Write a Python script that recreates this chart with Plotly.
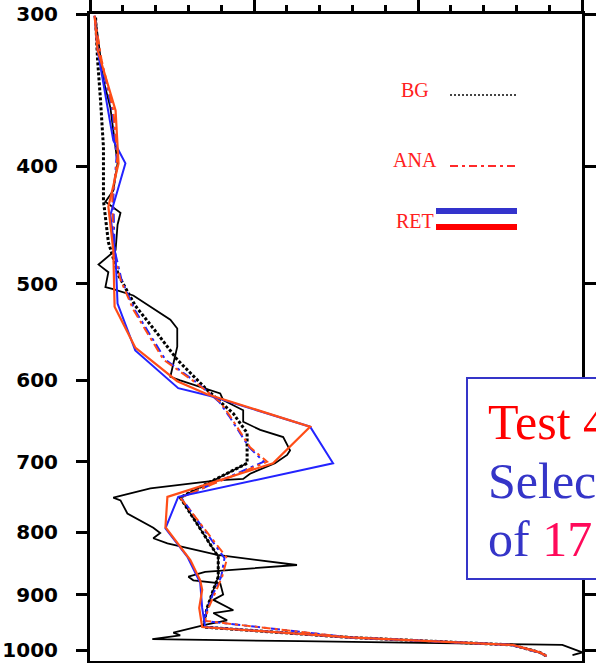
import math
import plotly.graph_objects as go

# ---- profiles: pressure (hPa) and mixing ratio (g/kg) ----
obs_p = [303, 340, 358, 386, 398, 419, 428, 437, 447, 469, 482, 489, 503, 505, 511, 535, 544, 563, 596, 600,
         613, 615, 623, 635, 649, 659, 668, 685, 691, 702, 716, 723, 725, 736, 749, 753, 772, 782, 793, 801,
         809, 817, 835, 851, 862, 870, 876, 881, 900, 909, 927, 932, 945, 952, 960, 967, 972, 979, 983, 990,
         1004, 1009]
obs_q = [0.17, 0.41, 0.62, 0.78, 0.84, 0.71, 0.47, 0.93, 0.84, 0.78, 0.26, 0.56, 0.47, 0.71, 1.32, 2.45, 2.66, 2.66, 2.45, 2.75,
         3.76, 3.97, 4.06, 4.67, 4.67, 5.19, 5.89, 6.10, 6.01, 5.64, 4.88, 4.67, 3.88, 1.84, 0.71, 0.93, 1.14, 1.54, 1.93, 2.14,
         1.93, 2.36, 3.88, 6.31, 3.51, 3.00, 3.15, 3.97, 4.06, 3.76, 4.37, 3.76, 4.18, 3.57, 3.06, 2.54, 2.75, 1.90, 6.40, 14.40,
         15.01, 14.71]

low_p = [702, 725, 749, 838, 870, 892, 923, 957, 976, 990, 1004, 1011]
low_q = [4.79, 3.76, 2.75, 3.91, 3.91, 3.76, 3.57, 3.45, 7.92, 12.88, 13.71, 13.92]

bg_p = [302, 327, 353, 386, 427, 462, 492, 521, 549, 577, 611, 639, 663, 702, 725, 749, 838, 870, 892, 923,
        957, 976, 990, 1004, 1011]
bg_q = [0.17, 0.23, 0.32, 0.41, 0.41, 0.56, 0.87, 1.38, 2.05, 2.66, 3.57, 4.37, 4.79, 4.79, 3.76, 2.75, 3.91, 3.91, 3.76, 3.57,
        3.45, 7.92, 12.88, 13.71, 13.92]

ana_p = [301, 327, 360, 393, 425, 469, 496, 525, 577, 604, 625, 642, 681, 700, 749, 840, 870, 903, 925, 946,
         976, 990, 1004, 1011]
ana_red_q = [0.14, 0.35, 0.71, 0.84, 0.68, 0.71, 0.93, 1.32, 2.24, 3.27, 3.97, 4.27, 4.88, 5.40, 2.75, 4.18, 4.03, 3.76, 3.60, 3.51,
             7.92, 12.88, 13.71, 13.92]
ana_blue_q = [0.14, 0.32, 0.68, 0.81, 0.71, 0.75, 0.96, 1.36, 2.30, 3.30, 3.94, 4.24, 4.85, 5.30, 2.78, 4.10, 4.00, 3.72, 3.57, 3.48,
              7.90, 12.85, 13.68, 13.95]

ret_red_p = [301, 321, 360, 398, 432, 469, 522, 564, 601, 616, 655, 702, 748, 792, 843, 876, 892, 923, 957, 976,
             990, 1004, 1011]
ret_red_q = [0.14, 0.23, 0.78, 0.87, 0.56, 0.71, 0.75, 1.38, 2.66, 3.57, 6.71, 5.58, 2.36, 2.30, 3.06, 3.36, 3.42, 3.33, 3.42, 7.92,
             12.88, 13.71, 13.92]

ret_blue_p = [301, 321, 381, 398, 419, 439, 474, 519, 567, 609, 618, 655, 702, 748, 794, 838, 880, 923, 957, 976,
              990, 1004, 1011]
ret_blue_q = [0.14, 0.23, 0.71, 1.08, 0.84, 0.62, 0.78, 0.84, 1.38, 2.69, 3.67, 6.71, 7.41, 2.69, 2.30, 2.97, 3.36, 3.42, 3.51, 7.92,
              12.88, 13.71, 13.92]

p_ticks = [300, 400, 500, 600, 700, 800, 900, 1000]
p_labels = ["300", "400", "500", "600", "700", "800", "900", "1000"]

W, H = 596, 663
ML, MR, MT, MB = 90, 14, 14, 2
PW, PH = W - ML - MR, H - MT - MB


def fx(px):
    return (px - ML) / PW


def fy(py):
    return 1 - (py - MT) / PH


RED = "#ff4d17"
BLUE = "#2323ff"
BOX_BLUE = "#3535c8"

fig = go.Figure()


def add(q, p, color, width, dash="solid"):
    fig.add_trace(go.Scatter(x=q, y=p, mode="lines", showlegend=False,
                             line=dict(color=color, width=width, dash=dash)))


add(obs_q, obs_p, "black", 1.8)
add(low_q, low_p, "black", 1.5)
add(bg_q, bg_p, "black", 3, "3px,2px")
add(ana_blue_q, ana_p, BLUE, 2, "9px,4px,3px,4px")
add(ana_red_q, ana_p, RED, 2, "9px,4px,3px,4px")
add(ret_blue_q, ret_blue_p, BLUE, 2)
add(ret_red_q, ret_red_p, RED, 2.2)

fig.update_xaxes(range=[0, 15], dtick=5, tick0=0, showticklabels=False, automargin=False,
                 ticks="outside", ticklen=14, tickwidth=2.5, tickcolor="black",
                 minor=dict(dtick=1, ticks="outside", ticklen=6, tickwidth=2.5, tickcolor="black"),
                 showline=True, linewidth=3, linecolor="black", mirror="ticks",
                 showgrid=False, zeroline=False)
fig.update_yaxes(type="log", range=[math.log10(1020.5), math.log10(300)], automargin=False,
                 tickvals=p_ticks, ticktext=p_labels,
                 ticks="outside", ticklen=11, tickwidth=2.5, tickcolor="black",
                 ticklabelstandoff=14,
                 tickfont=dict(family="DejaVu Sans", size=20, color="black", weight="bold"),
                 showline=True, linewidth=3, linecolor="black", mirror="ticks",
                 showgrid=False, zeroline=False)

shapes = []
# legend samples
shapes.append(dict(type="line", xref="paper", yref="paper", x0=fx(450), x1=fx(517), y0=fy(95), y1=fy(95),
                   line=dict(color="#444444", width=2, dash="2px,2px")))
shapes.append(dict(type="line", xref="paper", yref="paper", x0=fx(450), x1=fx(517), y0=fy(166), y1=fy(166),
                   line=dict(color="#ff2a2a", width=2, dash="8px,4px,3px,4px")))
shapes.append(dict(type="line", xref="paper", yref="paper", x0=fx(436), x1=fx(517), y0=fy(211), y1=fy(211),
                   line=dict(color="#3333cc", width=6)))
shapes.append(dict(type="line", xref="paper", yref="paper", x0=fx(436), x1=fx(517), y0=fy(227), y1=fy(227),
                   line=dict(color="#ff0000", width=6)))
# caption box
shapes.append(dict(type="rect", xref="paper", yref="paper", x0=fx(467), x1=fx(720), y0=fy(579), y1=fy(378),
                   line=dict(color=BOX_BLUE, width=2), fillcolor="white", layer="above"))

legend_font = dict(family="Liberation Serif", size=20, color="#ff2020")
annotations = [
    dict(text="BG", x=fx(415), y=fy(90), xref="paper", yref="paper", showarrow=False,
         xanchor="center", yanchor="middle", font=legend_font),
    dict(text="ANA", x=fx(415), y=fy(160), xref="paper", yref="paper", showarrow=False,
         xanchor="center", yanchor="middle", font=legend_font),
    dict(text="RET", x=fx(415), y=fy(221), xref="paper", yref="paper", showarrow=False,
         xanchor="center", yanchor="middle", font=legend_font),
]

box_font = dict(family="Liberation Serif", size=50)
annotations += [
    dict(text="<span style='color:#ff0000'>Test 4</span>", x=fx(486), y=fy(422), xref="paper", yref="paper",
         showarrow=False, xanchor="left", yanchor="middle", font=box_font),
    dict(text="<span style='color:#3535c8'>Selec</span>", x=fx(486), y=fy(481), xref="paper", yref="paper",
         showarrow=False, xanchor="left", yanchor="middle", font=box_font),
    dict(text="<span style='color:#3535c8'>of </span><span style='color:#ff0a5a'>17</span>",
         x=fx(486), y=fy(539), xref="paper", yref="paper",
         showarrow=False, xanchor="left", yanchor="middle", font=box_font),
]

fig.update_layout(width=W, height=H, margin=dict(l=ML, r=MR, t=MT, b=MB),
                  paper_bgcolor="white", plot_bgcolor="white",
                  shapes=shapes, annotations=annotations)

fig.write_html("out.html")
